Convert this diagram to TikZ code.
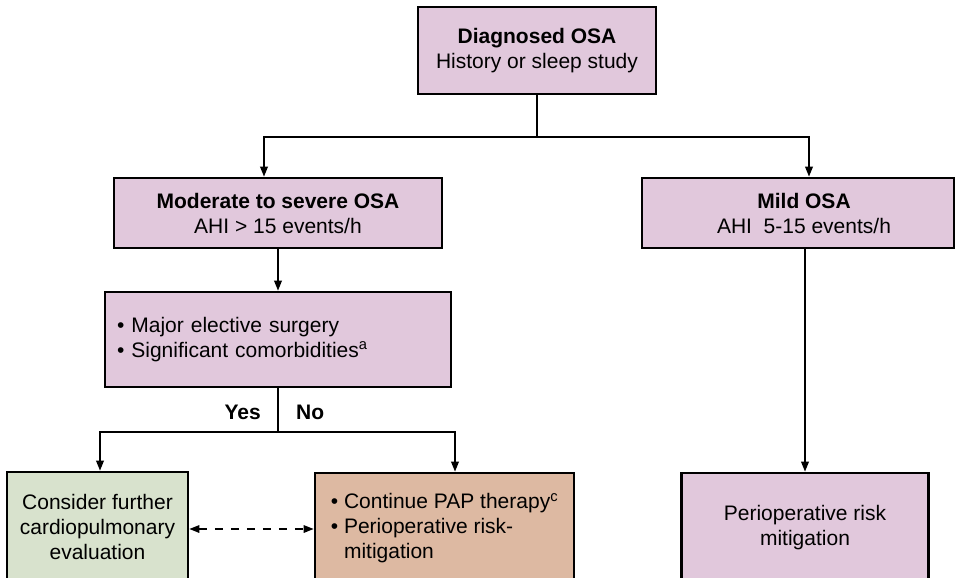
\documentclass[tikz,border=0pt]{standalone}
\usepackage{fontspec}
\setmainfont{Liberation Sans}
\usetikzlibrary{arrows.meta}
\definecolor{pinkbox}{RGB}{225,200,220}
\definecolor{greenbox}{RGB}{216,226,205}
\definecolor{tanbox}{RGB}{221,185,162}
\begin{document}
\begin{tikzpicture}[x=1pt,y=-1pt,
  box/.style={draw=black, line width=2.6pt, font=\fontsize{21}{25}\selectfont, inner sep=0pt, align=center},
  conn/.style={line width=1.8pt},
  arr/.style={conn, -{Triangle[length=10pt,width=7.5pt]}},
  lbl/.style={font=\bfseries\fontsize{21}{25}\selectfont, inner sep=0pt}]
\useasboundingbox (0,0) rectangle (956,578);

\node[box, fill=pinkbox, minimum width=238pt, minimum height=87pt] (top) at (537,50.5)
  {\textbf{Diagnosed OSA}\\History or sleep study};
\node[box, fill=pinkbox, minimum width=328pt, minimum height=70pt] (mod) at (278,213)
  {\textbf{Moderate to severe OSA}\\AHI > 15 events/h};
\node[box, fill=pinkbox, minimum width=312pt, minimum height=70pt] (mild) at (798,213)
  {\hspace*{12pt}\textbf{Mild OSA}\\\hspace*{12pt}AHI\ \ 5-15 events/h};
\node[box, fill=pinkbox, text width=322pt, inner xsep=12pt, minimum height=95pt, align=left] (crit) at (278,339.5)
  {\textbullet\ Major elective surgery\\\textbullet\ Significant comorbidities\textsuperscript{a}};
\node[box, fill=greenbox, minimum width=181pt, minimum height=110pt] (eval) at (97.5,527)
  {Consider further\\cardiopulmonary\\evaluation};
\node[box, fill=tanbox, minimum width=259pt, minimum height=110pt, align=left] (pap) at (444.5,528)
  {\textbullet\ Continue PAP therapy\textsuperscript{c}\\\textbullet\ Perioperative risk-\\\phantom{\textbullet\ }mitigation};
\node[box, fill=pinkbox, minimum width=247pt, minimum height=110pt] (mit) at (805,528)
  {\raisebox{2pt}{\begin{tabular}{@{}c@{}}Perioperative risk\\mitigation\end{tabular}}};

\node[lbl, anchor=east] (yes) at (261,412) {Yes};
\node[lbl, anchor=west] (no) at (296,412) {No};

% top split
\draw[conn] (top.south) -- ++(0,42) coordinate (j1);
\draw[arr] (j1) -| ([xshift=-14pt]mod.north);
\draw[arr] (j1) -| ([xshift=11pt]mild.north);
% moderate -> criteria
\draw[arr] (mod.south) -- (crit.north);
% criteria split
\draw[conn] (crit.south) -- ++(0,44) coordinate (j2);
\draw[arr] (j2) -| ([xshift=2.5pt]eval.north);
\draw[arr] (j2) -| ([xshift=10.5pt]pap.north);
% mild -> mitigation
\draw[arr] (mit.north |- mild.south) -- (mit.north);
% dashed double arrow
\draw[conn, line width=1.5pt, dash pattern=on 8pt off 8pt,
  {Triangle[length=10pt,width=7.5pt]}-{Triangle[length=10pt,width=7.5pt]}]
  ([yshift=-2pt]eval.east) -- ([yshift=-2pt]eval.east -| pap.west);
\end{tikzpicture}
\end{document}
